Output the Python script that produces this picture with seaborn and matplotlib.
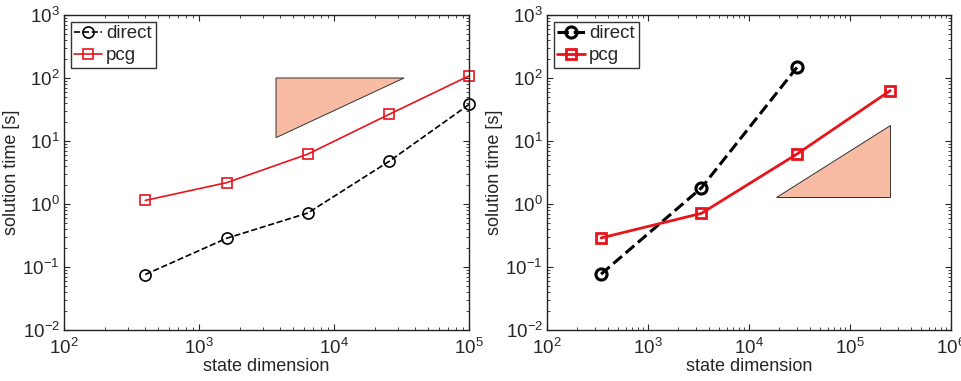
# Solution time vs state dimension, direct vs pcg solvers (two test cases).
import pandas as pd
import seaborn as sns
import matplotlib.pyplot as plt
from matplotlib.ticker import LogLocator, NullFormatter

# left panel (2D grids)
left_n = [400, 1600, 6400, 25600, 100000]
left_direct = [0.076, 0.285, 0.72, 4.75, 38.0]
left_pcg = [1.14, 2.18, 6.2, 26.5, 108.0]
left_tri_x = [3720, 33000, 3720]
left_tri_y = [100, 100, 11.3]

# right panel (3D grids)
right_n_direct = [343, 3375, 29791]
right_direct = [0.077, 1.80, 147.0]
right_n_pcg = [343, 3375, 29791, 250047]
right_pcg = [0.289, 0.71, 6.2, 63.0]
right_tri_x = [18300, 251000, 251000]
right_tri_y = [1.28, 1.28, 17.7]

sns.set_style("ticks")
plt.rcParams['font.family'] = ['Liberation Sans', 'DejaVu Sans']
plt.rcParams['mathtext.fontset'] = 'custom'
plt.rcParams['mathtext.rm'] = 'Liberation Sans'
plt.rcParams['font.size'] = 11

red = '#e8141c'
fig = plt.figure(figsize=(9.62, 3.81), dpi=100)
ax1 = fig.add_axes([64/962, 51/381, 405/962, 315/381])
ax2 = fig.add_axes([547/962, 51/381, 404/962, 315/381])


def style_axis(ax, xmax):
    ax.set_xscale('log')
    ax.set_yscale('log')
    ax.set_xlim(1e2, xmax)
    ax.set_ylim(1e-2, 1e3)
    ax.xaxis.set_minor_locator(LogLocator(base=10, subs=range(2, 10), numticks=20))
    ax.yaxis.set_minor_locator(LogLocator(base=10, subs=range(2, 10), numticks=20))
    ax.xaxis.set_minor_formatter(NullFormatter())
    ax.yaxis.set_minor_formatter(NullFormatter())
    ax.tick_params(which='both', direction='in', top=True, right=True, labelsize=13.5)
    ax.tick_params(which='major', length=4, width=0.8)
    ax.tick_params(which='minor', length=2, width=0.6)
    ax.tick_params(axis='x', pad=6)
    ax.tick_params(axis='y', pad=3)
    for s in ax.spines.values():
        s.set_linewidth(1.0)
        s.set_color('#222222')
    ax.set_xlabel('state dimension', fontsize=13, labelpad=0)
    ax.set_ylabel('solution time [s]', fontsize=13, labelpad=2)
    leg = ax.legend(loc='upper left', fontsize=13.5, frameon=True, fancybox=False,
                    handlelength=1.5, handletextpad=0.2, borderpad=0.2,
                    labelspacing=0.25, borderaxespad=0.35)
    leg.get_frame().set_edgecolor('black')
    leg.get_frame().set_linewidth(1.0)


# left
ax1.fill(left_tri_x, left_tri_y, facecolor='#f7bca3', edgecolor='#333333', linewidth=0.7, zorder=1)
sns.lineplot(x=left_n, y=left_direct, ax=ax1, color='black', linestyle='--', linewidth=1.2,
             marker='o', markersize=8, markerfacecolor='none', markeredgecolor='black',
             markeredgewidth=1.2, label='direct')
sns.lineplot(x=left_n, y=left_pcg, ax=ax1, color=red, linewidth=1.2,
             marker='s', markersize=6.5, markerfacecolor='none', markeredgecolor=red,
             markeredgewidth=1.2, label='pcg')
style_axis(ax1, 1e5)
for ln in ax1.lines:
    ln.set_clip_on(False)

# right
ax2.fill(right_tri_x, right_tri_y, facecolor='#f7bca3', edgecolor='#333333', linewidth=0.7, zorder=1)
sns.lineplot(x=right_n_direct, y=right_direct, ax=ax2, color='black', linestyle='--', linewidth=2.2,
             marker='o', markersize=8, markerfacecolor='none', markeredgecolor='black',
             markeredgewidth=2.2, label='direct')
sns.lineplot(x=right_n_pcg, y=right_pcg, ax=ax2, color=red, linewidth=2.0,
             marker='s', markersize=7, markerfacecolor='none', markeredgecolor=red,
             markeredgewidth=2.0, label='pcg')
style_axis(ax2, 1e6)

fig.savefig('out.png', dpi=100)
